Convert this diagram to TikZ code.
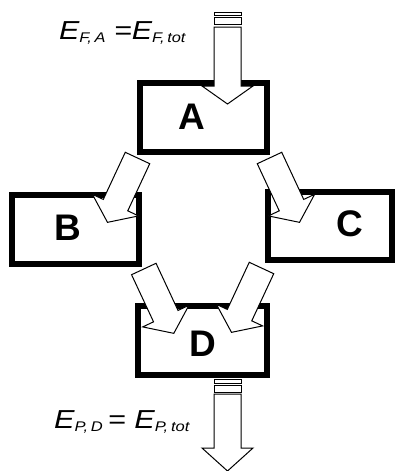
\documentclass[tikz,border=0pt]{standalone}
\usepackage{fontspec}
\setmainfont{Liberation Sans}
\tikzset{
  box/.style={draw=black, line width=6pt, fill=white, rectangle, inner sep=0pt},
  letter/.style={font=\fontsize{37}{37}\selectfont\bfseries, inner sep=0pt},
  arrowline/.style={draw=black, line width=1pt, fill=white, line join=miter},
  elabel/.style={inner sep=0pt, anchor=base west, font=\itshape\fontsize{26}{28}\selectfont},
  pics/barrow/.style 2 args={code={
    \draw[arrowline] (-13.5,0) -- (-13.5,#1) -- (-25.5,#1) -- (0,#1+#2) -- (25.5,#1) -- (13.5,#1) -- (13.5,0) -- cycle;
  }},
}
\newcommand{\mysub}[1]{\raisebox{-3pt}{\fontsize{14}{14}\selectfont #1}}
\begin{document}
\begin{tikzpicture}[x=1pt,y=-1pt]
\useasboundingbox (0,0) rectangle (395,471);
% boxes
\node[box, minimum width=127pt, minimum height=69pt] (A) at (203.5,117.5) {};
\node[box, minimum width=127pt, minimum height=69pt] (B) at (75.5,229.5) {};
\node[box, minimum width=124pt, minimum height=68pt] (C) at (330,226) {};
\node[box, minimum width=129pt, minimum height=69pt] (D) at (202.5,340.5) {};
% letters
\node[letter] (lA) at (192,116.5) {A};
\node[letter] (lB) at (68,228) {B};
\node[letter] (lC) at (350,224) {C};
\node[letter] (lD) at (202.5,344) {D};
% input arrow
\coordinate (in) at (227.5,27);
\draw[arrowline] (214,12) rectangle (241,15);
\draw[arrowline] (214,17) rectangle (241,24);
\pic at (in) {barrow={59}{18}};
% internal arrows
\coordinate (ab) at (137.5,158);
\coordinate (ac) at (269.5,158);
\coordinate (bd) at (143.8,269);
\coordinate (cd) at (261.5,268);
\pic[rotate=-25] at (ab) {barrow={52}{19}};
\pic[rotate=25] at (ac) {barrow={52}{19}};
\pic[rotate=25] at (bd) {barrow={52}{19}};
\pic[rotate=-25] at (cd) {barrow={52}{19}};
% output arrow
\coordinate (out) at (227.5,394);
\draw[arrowline] (214,379) rectangle (241,383);
\draw[arrowline] (214,385) rectangle (241,392);
\pic at (out) {barrow={54}{23}};
% labels
\node[elabel] (ltop) at (59,39) {\scalebox{1.17}[1]{E\mysub{F,\,A}\ =E\mysub{F,\,tot}}};
\node[elabel] (lbot) at (54,428.5) {\scalebox{1.18}[1]{E\mysub{P,\,D}\,= E\mysub{P,\,tot}}};
\end{tikzpicture}
\end{document}
